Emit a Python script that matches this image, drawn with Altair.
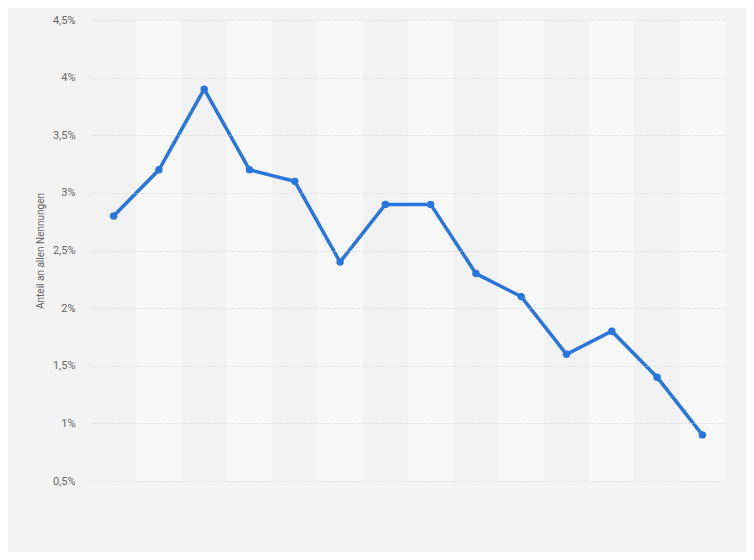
import altair as alt
import pandas as pd

categories = [str(i) for i in range(1, 15)]
values = [2.8, 3.2, 3.9, 3.2, 3.1, 2.4, 2.9, 2.9, 2.3, 2.1, 1.6, 1.8, 1.4, 0.9]
y_ticks = [0.5, 1, 1.5, 2, 2.5, 3, 3.5, 4, 4.5]

df = pd.DataFrame({"cat": categories, "val": values})

xscale = alt.Scale(type="band", paddingInner=0, paddingOuter=0, domain=categories)
yscale = alt.Scale(domain=[0.5, 4.5], nice=False, zero=False)

xenc = alt.X("cat:N", scale=xscale, sort=categories,
             axis=alt.Axis(labels=False, ticks=False, domain=False, title=None, grid=False))

bands = alt.Chart(df).transform_window(
    idx="row_number()"
).mark_rect().encode(
    x=xenc,
    color=alt.condition("datum.idx % 2 == 0", alt.value("#f8f8f8"), alt.value("#f2f2f2")),
)

yaxis = alt.Axis(
    values=y_ticks,
    labelExpr="replace(format(datum.value, '~g'), '.', ',') + '%'",
    title="Anteil an allen Nennungen",
    titleFont="Roboto", titleFontSize=10, titleFontWeight="normal", titleColor="#666666",
    titleX=-51, titleBaseline="middle",
    labelFont="Roboto", labelFontSize=11, labelColor="#666666", labelPadding=16,
    ticks=False, domain=False, zindex=1,
    grid=True, gridColor="#d0d0d0", gridDash=[1, 2], gridWidth=1,
)

line = alt.Chart(df).mark_line(color="#2876dd", strokeWidth=3.5, point=alt.OverlayMarkDef(color="#2876dd", size=55, filled=True, opacity=1)).encode(
    x=xenc,
    y=alt.Y("val:Q", scale=yscale, axis=yaxis),
)

chart = alt.layer(bands, line).properties(
    width=634, height=461,
    background="#f3f3f3",
    padding={"left": 83, "top": 12, "right": 21, "bottom": 71},
    autosize=alt.AutoSizeParams(type="none"),
).configure_view(stroke=None)

chart.save("out.html", embed_options={"renderer": "svg", "actions": False})
